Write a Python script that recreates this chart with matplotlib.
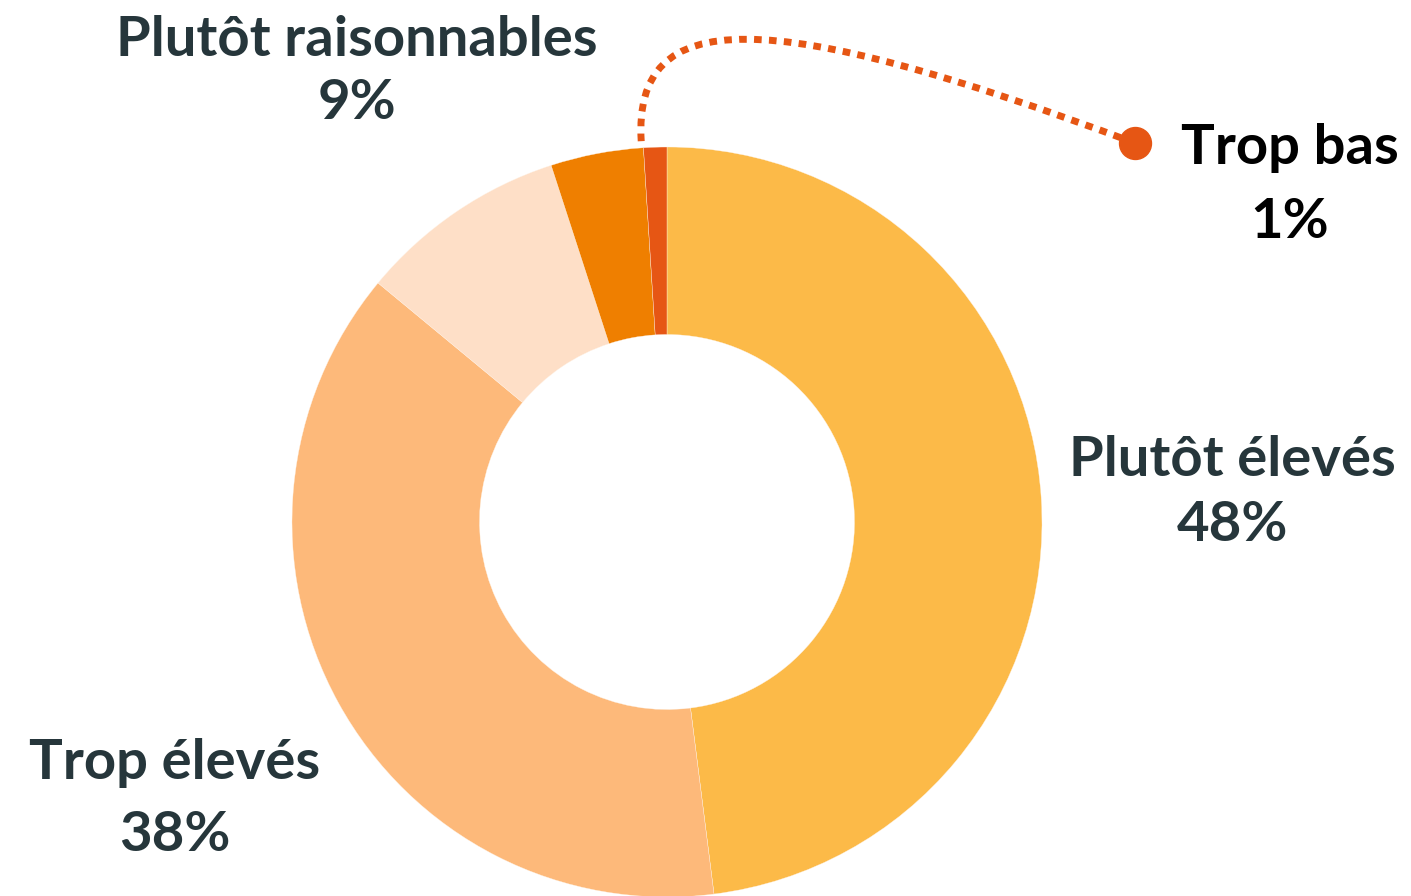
import numpy as np
import matplotlib.pyplot as plt
from matplotlib.path import Path
from matplotlib.patches import PathPatch

# Data (clockwise from 12 o'clock)
categories = ['Plutôt élevés', 'Trop élevés', 'Plutôt raisonnables', 'Très raisonnables', 'Trop bas']
shares = [48, 38, 9, 4, 1]
colors = ['#FCBA48', '#FDB97A', '#FEDFC7', '#EF7F00', '#E65614']
labels_shown = ['Plutôt élevés', 'Trop élevés', 'Plutôt raisonnables', None, 'Trop bas']

W, H = 1411, 896
TEXT_COL = '#26363B'
plt.rcParams['font.family'] = ['Lato', 'DejaVu Sans']

fig = plt.figure(figsize=(W / 100, H / 100), dpi=100)
ax = fig.add_axes([0, 0, 1, 1])

cx, cy, r = 667, H - 522, 375
ax.pie(shares, colors=colors, startangle=90, counterclock=False,
       center=(cx, cy), radius=r, frame=True,
       wedgeprops=dict(width=r * 0.5, edgecolor='#FFF3E6', linewidth=0.25))
ax.set_xlim(0, W)
ax.set_ylim(0, H)
ax.set_aspect('equal')
ax.axis('off')

# label positions (pixel centres: x, name y, value y)
label_pos = {
    'Plutôt élevés': (1232, 460, 525),
    'Trop élevés': (175, 763, 835),
    'Plutôt raisonnables': (357, 40, 103),
    'Trop bas': (1290, 148, 222),
}
for name, val in zip(labels_shown, shares):
    if name is None:
        continue
    x, y1, y2 = label_pos[name]
    col = 'black' if name == 'Trop bas' else TEXT_COL
    ax.text(x, H - y1, name, ha='center', va='center', fontsize=40.5,
            fontweight='bold', color=col)
    ax.text(x, H - y2, f'{val}%', ha='center', va='center', fontsize=40.5,
            fontweight='bold', color=col)

# dotted connector for the smallest slice
ang = np.deg2rad(90 - 360 * (sum(shares) - shares[-1] / 2) / 100)
sx, sy = cx + r * np.cos(ang), cy + r * np.sin(ang)
ex, ey = 1135, H - 143
verts = [(sx - 14, sy + 6), (sx - 22, H - 5), (sx + 110, H - 5), (ex, ey)]
path = Path(verts, [Path.MOVETO, Path.CURVE4, Path.CURVE4, Path.CURVE4])
ax.add_patch(PathPatch(path, facecolor='none', edgecolor=colors[-1], lw=5,
                       linestyle=(0, (1.1, 1.05)), capstyle='butt'))
ax.plot([ex], [ey], 'o', color=colors[-1], markersize=23)

fig.savefig('out.png', dpi=100)
